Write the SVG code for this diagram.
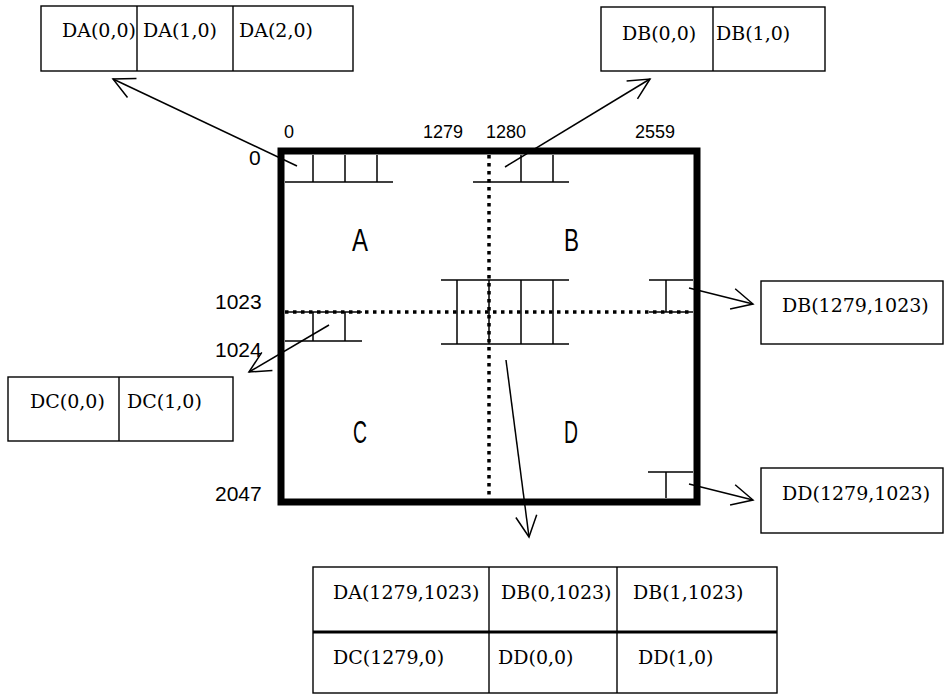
<svg xmlns="http://www.w3.org/2000/svg" width="945" height="695" viewBox="0 0 945 695">
<style>
.bg{fill:#fff}
.frame{fill:none;stroke:#000;stroke-width:7}
.dot{fill:none;stroke:#000;stroke-width:3.5;stroke-dasharray:3.5 4.5}
.grid{fill:none;stroke:#000;stroke-width:1.5}
.box{fill:#fff;stroke:#000;stroke-width:1.4}
.div{stroke:#000;stroke-width:1.4}
.thick{stroke:#000;stroke-width:3}
.conn{fill:none;stroke:#000;stroke-width:1.5}
.cell{font-family:"DejaVu Serif","Liberation Serif",serif;font-size:19px;fill:#000}
.num{font-family:"Liberation Sans",Arial,sans-serif;font-size:18px;fill:#000}
.numL{font-family:"Liberation Sans",Arial,sans-serif;font-size:21px;fill:#000}
.quad{font-family:"Liberation Sans",Arial,sans-serif;font-size:32px;fill:#000}
</style>
<defs>
<marker id="arrow" markerUnits="userSpaceOnUse" viewBox="-24 -13 26 26" markerWidth="26" markerHeight="26" refX="0" refY="0" orient="auto" overflow="visible">
<path d="M-21,-10.5 L0,0 L-21,10.5" fill="none" stroke="#000" stroke-width="1.5"/>
</marker>
</defs>
<rect class="bg" x="0" y="0" width="945" height="695"/>

<g id="frame">
<rect class="frame" x="281" y="151" width="416" height="351"/>
<line class="dot" x1="489" y1="155" x2="489" y2="498"/>
<line class="dot" x1="285" y1="312" x2="693" y2="312"/>
</g>

<g id="grid-A">
<line class="grid" x1="285" y1="182" x2="393" y2="182"/>
<line class="grid" x1="313" y1="155" x2="313" y2="182"/>
<line class="grid" x1="345" y1="155" x2="345" y2="182"/>
<line class="grid" x1="377" y1="155" x2="377" y2="182"/>
</g>
<g id="grid-B">
<line class="grid" x1="473" y1="182" x2="569" y2="182"/>
<line class="grid" x1="521" y1="155" x2="521" y2="182"/>
<line class="grid" x1="553" y1="155" x2="553" y2="182"/>
</g>
<g id="grid-center">
<line class="grid" x1="441" y1="280" x2="569" y2="280"/>
<line class="grid" x1="441" y1="344" x2="569" y2="344"/>
<line class="grid" x1="457" y1="280" x2="457" y2="344"/>
<line class="grid" x1="489" y1="280" x2="489" y2="344"/>
<line class="grid" x1="521" y1="280" x2="521" y2="344"/>
<line class="grid" x1="553" y1="280" x2="553" y2="344"/>
</g>
<g id="grid-B-right">
<line class="grid" x1="649" y1="280" x2="693" y2="280"/>
<line class="grid" x1="649" y1="312" x2="693" y2="312"/>
<line class="grid" x1="666" y1="280" x2="666" y2="312"/>
</g>
<g id="grid-C">
<line class="grid" x1="285" y1="312" x2="362" y2="312"/>
<line class="grid" x1="285" y1="341" x2="362" y2="341"/>
<line class="grid" x1="313" y1="312" x2="313" y2="341"/>
<line class="grid" x1="345" y1="312" x2="345" y2="341"/>
</g>
<g id="grid-D">
<line class="grid" x1="648" y1="472" x2="693" y2="472"/>
<line class="grid" x1="666" y1="472" x2="666" y2="498"/>
</g>

<g id="quadrant-labels">
<text class="quad" x="352" y="251" textLength="16" lengthAdjust="spacingAndGlyphs">A</text>
<text class="quad" x="564" y="251" textLength="15" lengthAdjust="spacingAndGlyphs">B</text>
<text class="quad" x="353" y="443" textLength="14" lengthAdjust="spacingAndGlyphs">C</text>
<text class="quad" x="564" y="443" textLength="14" lengthAdjust="spacingAndGlyphs">D</text>
</g>

<g id="axis-labels">
<text class="num" x="284" y="138">0</text>
<text class="num" x="423" y="138">1279</text>
<text class="num" x="486" y="138">1280</text>
<text class="num" x="635" y="138">2559</text>
<text class="numL" x="249" y="165">0</text>
<text class="numL" x="215" y="309">1023</text>
<text class="numL" x="215" y="357">1024</text>
<text class="numL" x="215" y="501">2047</text>
</g>

<g id="box-DA">
<rect class="box" x="41" y="6" width="312" height="65"/>
<line class="div" x1="137" y1="6" x2="137" y2="71"/>
<line class="div" x1="233" y1="6" x2="233" y2="71"/>
<text class="cell" x="62" y="37">DA(0,0)</text>
<text class="cell" x="143" y="37">DA(1,0)</text>
<text class="cell" x="239" y="37">DA(2,0)</text>
</g>
<g id="box-DB">
<rect class="box" x="601" y="7" width="224" height="64"/>
<line class="div" x1="713" y1="7" x2="713" y2="71"/>
<text class="cell" x="622" y="40">DB(0,0)</text>
<text class="cell" x="716" y="40">DB(1,0)</text>
</g>
<g id="box-DC">
<rect class="box" x="8" y="377" width="225" height="64"/>
<line class="div" x1="119" y1="377" x2="119" y2="441"/>
<text class="cell" x="30" y="408">DC(0,0)</text>
<text class="cell" x="127" y="408">DC(1,0)</text>
</g>
<g id="box-DB-edge">
<rect class="box" x="761" y="281" width="182" height="63"/>
<text class="cell" x="782" y="312">DB(1279,1023)</text>
</g>
<g id="box-DD-edge">
<rect class="box" x="761" y="468" width="182" height="65"/>
<text class="cell" x="782" y="500">DD(1279,1023)</text>
</g>
<g id="box-center">
<rect class="box" x="313" y="567" width="464" height="126"/>
<line class="div" x1="489" y1="567" x2="489" y2="693"/>
<line class="div" x1="617" y1="567" x2="617" y2="693"/>
<line class="thick" x1="313" y1="632" x2="777" y2="632"/>
<text class="cell" x="333" y="599">DA(1279,1023)</text>
<text class="cell" x="501" y="599">DB(0,1023)</text>
<text class="cell" x="633" y="599">DB(1,1023)</text>
<text class="cell" x="333" y="664">DC(1279,0)</text>
<text class="cell" x="498" y="664">DD(0,0)</text>
<text class="cell" x="638" y="664">DD(1,0)</text>
</g>

<g id="connectors">
<line class="conn" x1="297" y1="166" x2="113" y2="79" marker-end="url(#arrow)"/>
<line class="conn" x1="505" y1="167" x2="650" y2="79" marker-end="url(#arrow)"/>
<line class="conn" x1="329" y1="325" x2="249" y2="372" marker-end="url(#arrow)"/>
<line class="conn" x1="689" y1="288" x2="753" y2="304" marker-end="url(#arrow)"/>
<line class="conn" x1="689" y1="484" x2="753" y2="500" marker-end="url(#arrow)"/>
<line class="conn" x1="506" y1="360" x2="529" y2="537" marker-end="url(#arrow)"/>
</g>
</svg>
